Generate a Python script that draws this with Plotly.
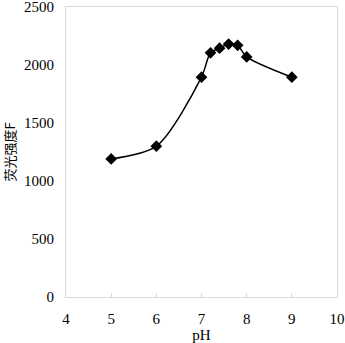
import plotly.graph_objects as go

ph = [5, 6, 7, 7.2, 7.4, 7.6, 7.8, 8, 9]
intensity = [1190, 1300, 1895, 2105, 2145, 2180, 2170, 2070, 1895]

fig = go.Figure()
fig.add_trace(go.Scatter(
    x=ph, y=intensity, mode="lines+markers",
    line=dict(color="black", width=1.5, shape="spline", smoothing=0.8),
    marker=dict(symbol="diamond", size=9, color="black"),
    cliponaxis=False,
))
axis_common = dict(showgrid=False, zeroline=False, showline=True, linecolor="#d9d9d9",
                   linewidth=1, mirror=True, automargin=False, ticklabeloverflow="allow",
                   tickfont=dict(family="Liberation Serif", size=15, color="black"))
fig.update_xaxes(range=[4, 10], dtick=1, ticks="inside", ticklen=4, tickcolor="#d9d9d9",
                 ticklabelstandoff=8,
                 title=dict(text="pH", font=dict(family="Liberation Serif", size=15, color="black"), standoff=4),
                 **axis_common)
fig.update_yaxes(range=[0, 2500], dtick=500, ticks="", ticklabelstandoff=8,
                 title=dict(text="荧光强度F", font=dict(family="Noto Sans CJK SC", size=13, color="black"), standoff=12),
                 **axis_common)
fig.update_layout(width=345, height=343, margin=dict(l=66, r=8, t=7, b=46),
                  plot_bgcolor="white", paper_bgcolor="white", showlegend=False)
fig.write_html("out.html", config={"displayModeBar": False},
               post_script="document.body.style.margin='0';")
